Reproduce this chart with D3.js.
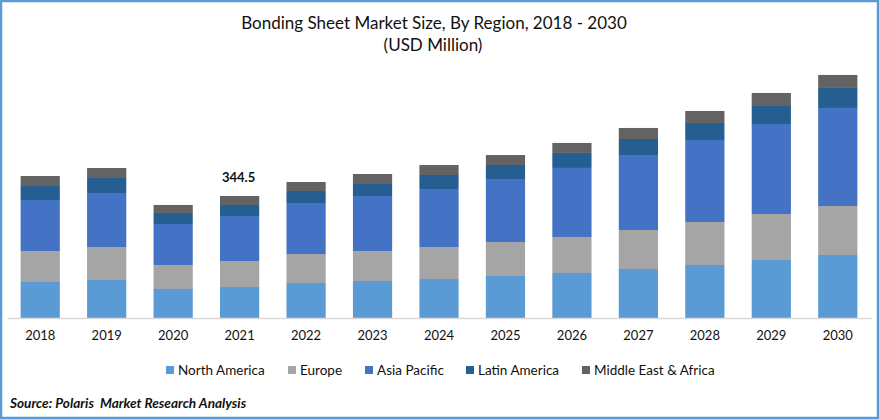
<!DOCTYPE html>
<html>
<head>
<meta charset="utf-8">
<script src="https://cdn.jsdelivr.net/npm/d3@7"></script>
<style>
  html, body { margin: 0; padding: 0; background: #fff; }
  text { font-family: Lato, "Open Sans", sans-serif; fill: #111; }
</style>
</head>
<body>
<div id="chart"></div>
<script>
var years = ["2018","2019","2020","2021","2022","2023","2024","2025","2026","2027","2028","2029","2030"];
var regions = ["North America","Europe","Asia Pacific","Latin America","Middle East & Africa"];
var colors = ["#5B9BD5","#A5A5A5","#4472C4","#255E91","#636363"];

// values in USD million (2021 total = 344.5)
var northAmerica = [101.7, 107.3, 81.9, 87.5, 98.8, 104.5, 110.1, 118.6, 127.1, 138.4, 149.7, 163.8, 177.9];
var europe = [87.5, 93.2, 67.8, 73.4, 81.9, 84.7, 90.4, 96.0, 101.7, 110.1, 121.4, 129.9, 138.4];
var asiaPacific = [144.0, 152.5, 115.8, 127.1, 144.0, 155.3, 163.8, 177.9, 194.9, 211.8, 231.6, 254.2, 276.8];
var latinAmerica = [39.5, 42.4, 31.1, 31.1, 33.9, 33.9, 39.5, 39.5, 42.4, 45.2, 48.0, 50.8, 56.5];
var middleEastAfrica = [28.2, 28.2, 22.6, 25.4, 25.4, 28.2, 28.2, 28.2, 28.2, 31.1, 33.9, 36.7, 36.7];
var labelYear = "2021";
var labelValue = "344.5";

var width = 879, height = 419;
var margin = { top: 60, right: 8, bottom: 101, left: 7 };

var svg = d3.select("#chart")
  .append("svg")
  .attr("width", width)
  .attr("height", height)
  .style("display", "block");

// blue picture frame
svg.append("rect")
  .attr("x", 1)
  .attr("y", 1)
  .attr("width", width - 2)
  .attr("height", height - 2)
  .attr("fill", "none")
  .attr("stroke", "#5B9BD5")
  .attr("stroke-width", 2.5);

// title
svg.append("text")
  .attr("x", 434)
  .attr("y", 29)
  .attr("text-anchor", "middle")
  .style("font-size", "17px")
  .text("Bonding Sheet Market Size, By Region, 2018 - 2030");
svg.append("text")
  .attr("x", 433)
  .attr("y", 51)
  .attr("text-anchor", "middle")
  .style("font-size", "17px")
  .text("(USD Million)");

var rows = years.map(function (y, i) {
  return {
    year: y,
    "North America": northAmerica[i],
    "Europe": europe[i],
    "Asia Pacific": asiaPacific[i],
    "Latin America": latinAmerica[i],
    "Middle East & Africa": middleEastAfrica[i]
  };
});

var series = d3.stack().keys(regions)(rows);

var x = d3.scaleBand()
  .domain(years)
  .range([margin.left, width - margin.right])
  .paddingInner(0.41)
  .paddingOuter(0.205);

var baseline = height - margin.bottom;
// 344.5 units span 122 px in the reference
var y = d3.scaleLinear()
  .domain([0, 344.5 * (baseline - margin.top) / 122])
  .range([baseline, margin.top]);

var color = d3.scaleOrdinal().domain(regions).range(colors);

svg.selectAll("g.layer")
  .data(series)
  .enter()
  .append("g")
  .attr("class", "layer")
  .attr("fill", function (d) { return color(d.key); })
  .selectAll("rect")
  .data(function (d) { return d; })
  .enter()
  .append("rect")
  .attr("x", function (d) { return x(d.data.year); })
  .attr("y", function (d) { return y(d[1]); })
  .attr("width", x.bandwidth())
  .attr("height", function (d) { return y(d[0]) - y(d[1]); });

// x axis
var xAxis = svg.append("g")
  .attr("transform", "translate(0," + baseline + ")")
  .call(d3.axisBottom(x).tickSize(0).tickPadding(13));
xAxis.select(".domain").attr("stroke", "#D9D9D9").attr("stroke-width", 1.5);
xAxis.selectAll("text").style("font-size", "13px").style("font-family", "Lato, sans-serif").attr("fill", "#111");

// the one labelled total
svg.append("text")
  .attr("x", x(labelYear) + x.bandwidth() / 2 - 1)
  .attr("y", y(344.5) - 14)
  .attr("text-anchor", "middle")
  .style("font-size", "13px")
  .style("font-weight", "bold")
  .text(labelValue);

// legend
var legendX = [166, 288, 365, 466, 582];
var legend = svg.selectAll("g.legend")
  .data(regions)
  .enter()
  .append("g")
  .attr("class", "legend")
  .attr("transform", function (d, i) { return "translate(" + legendX[i] + ",366)"; });
legend.append("rect")
  .attr("width", 8)
  .attr("height", 8)
  .attr("fill", function (d) { return color(d); });
legend.append("text")
  .attr("x", 12)
  .attr("y", 9)
  .style("font-size", "13.5px")
  .text(function (d) { return d; });

// source
svg.append("text")
  .attr("x", 10)
  .attr("y", 408)
  .style("font-size", "13.6px")
  .style("font-weight", "bold")
  .style("font-style", "italic")
  .style("white-space", "pre")
  .text("Source: Polaris  Market Research Analysis");
</script>
</body>
</html>
